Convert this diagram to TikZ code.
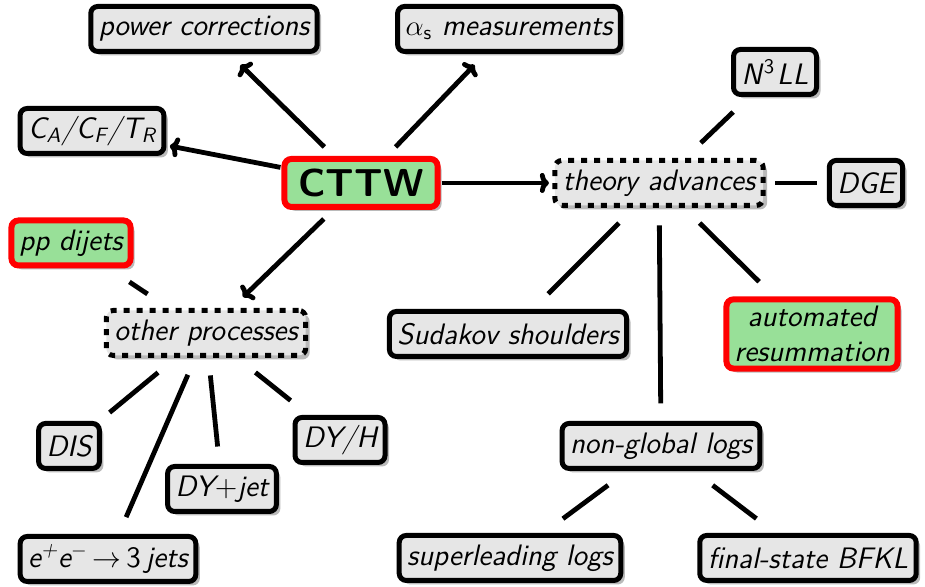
\documentclass[tikz,border=0pt]{standalone}
\usetikzlibrary{arrows.meta,shadows}
\definecolor{leafgray}{RGB}{230,230,230}
\definecolor{hotgreen}{RGB}{152,224,152}
\definecolor{hotred}{RGB}{255,0,0}

\begin{document}
\begin{tikzpicture}[x=1cm, y=1cm,
    leaf/.style={draw, line width=2.5pt, rounded corners=3.5pt, fill=leafgray,
      inner xsep=4pt, minimum height=22.5pt, outer xsep=2pt, outer ysep=6pt,
      font=\fontsize{14.8}{17.5}\selectfont\sffamily\itshape,
      drop shadow={shadow xshift=2pt, shadow yshift=-2pt, fill=black!60, opacity=0.45}},
    hot/.style={leaf, draw=hotred, line width=3pt, fill=hotgreen},
    hub/.style={leaf, dash pattern=on 3pt off 3.5pt},
    push/.style={line width=2.4pt, -{To[length=4.5pt,width=10pt]}, shorten >=1pt},
    link/.style={line width=2.4pt, shorten <=4pt, shorten >=4pt}]
  \useasboundingbox (0,0) rectangle (16.255,10.315);
  % the centre
  \node[hot, inner xsep=7pt, minimum height=24pt,
    font=\fontsize{19.5}{22}\selectfont\sffamily\bfseries] (cttw) at (6.344,7.100) {CTTW};
  % what it feeds
  \node[leaf] (power) at (3.585,9.806) {power corrections};
  \node[leaf] (alphas) at (8.945,9.806) {$\alpha_{\mathsf{s}}$ measurements};
  \node[leaf] (colour) at (1.617,8.013) {C\textsubscript{A}/C\textsubscript{F}/T\textsubscript{R}};
  % theory branch
  \node[hub] (theory) at (11.581,7.100) {theory advances};
  \node[leaf] (nnnll) at (13.619,9.050) {N\kern1pt\textsuperscript{\upshape 3}\kern1pt LL};
  \node[leaf] (dge) at (15.218,7.100) {DGE};
  \node[leaf] (sudakov) at (8.927,4.446) {Sudakov shoulders};
  \node[hot, align=center] (auto) at (14.269,4.446) {automated\\resummation};
  \node[leaf] (ngl) at (11.616,2.478) {non-global logs};
  \node[leaf] (slogs) at (8.962,0.510) {superleading logs};
  \node[leaf] (bfkl) at (14.199,0.510) {final-state BFKL};
  % processes branch
  \node[hot] (ppjets) at (1.248,6.045) {pp dijets};
  \node[hub] (other) at (3.620,4.464) {other processes};
  \node[leaf] (dis) at (1.213,2.478) {DIS};
  \node[leaf] (dyjet) at (3.901,1.722) {DY{\upshape +}jet};
  \node[leaf] (dyh) at (5.975,2.583) {DY/H};
  \node[leaf] (eejets) at (1.898,0.492) {e\textsuperscript{+}e\textsuperscript{$-$}\,$\to$\,{\upshape 3}\,jets};
  % arrows out of the centre
  \draw[push] (cttw) -- (power);
  \draw[push] (cttw) -- (alphas);
  \draw[push] (cttw) -- (colour);
  \draw[push] (cttw) -- (theory);
  \draw[push] (cttw) -- (other);
  % plain links
  \draw[link] (theory) -- (nnnll);
  \draw[link] (theory) -- (dge);
  \draw[link] (theory) -- (sudakov);
  \draw[link] (theory) -- (ngl);
  \draw[link] (theory) -- (auto);
  \draw[link] (ngl) -- (slogs);
  \draw[link] (ngl) -- (bfkl);
  \draw[link] (other) -- (ppjets);
  \draw[link] (other) -- (dis);
  \draw[link] (other) -- (eejets);
  \draw[link] (other) -- (dyjet);
  \draw[link] (other) -- (dyh);
\end{tikzpicture}
\end{document}
